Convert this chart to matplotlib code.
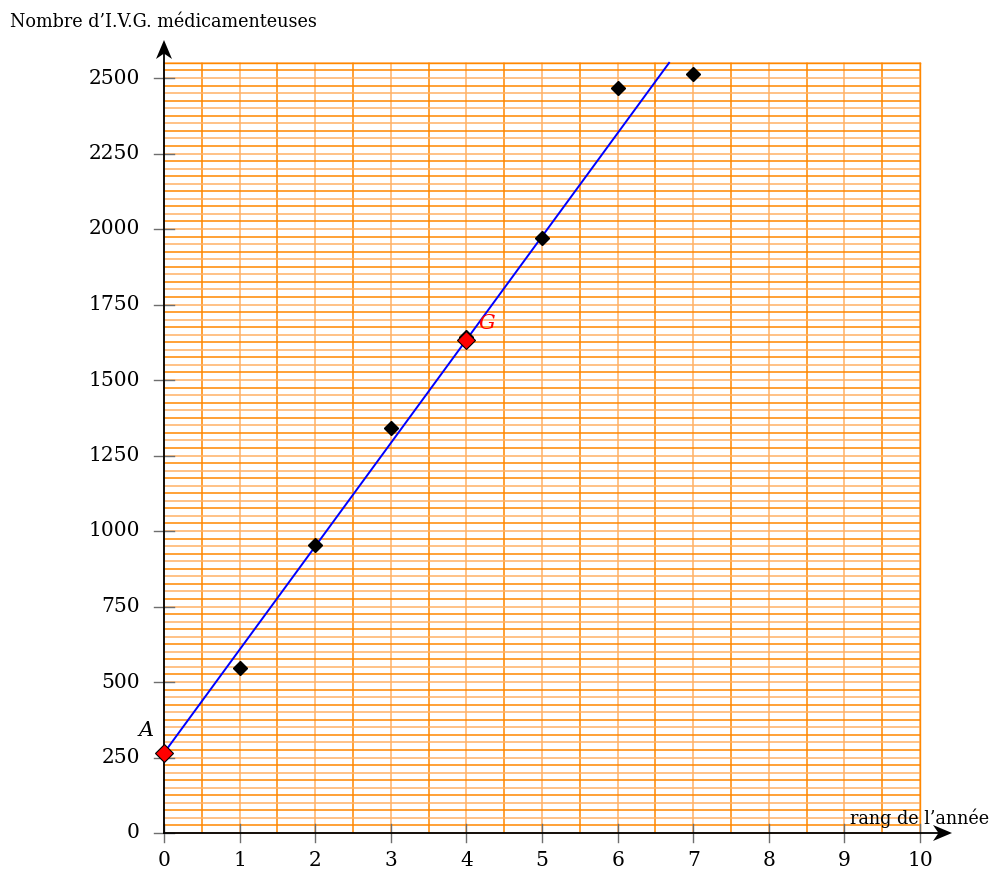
import matplotlib
matplotlib.use("Agg")
import matplotlib.pyplot as plt
import numpy as np

# data
rangs = [1, 2, 3, 4, 5, 6, 7]
ivg = [546, 953, 1341, 1642, 1970, 2467, 2513]
point_A = (0, 265)
x_ticks = list(range(0, 11))
y_ticks = list(range(0, 2501, 250))

FONT = "DejaVu Serif"
ORANGE_DARK = "#ff8800"
ORANGE_LIGHT = "#ffb266"
TICK = "#6e6e6e"

fig = plt.figure(figsize=(9.91, 8.77), dpi=100)
ax = fig.add_axes([0, 0, 1, 1])
# pixel mapping: x=0 -> 164px, x=10 -> 920px ; y=0 -> 833px, y=2500 -> 78px
sx = 75.6
sy = 755 / 2500
ax.set_xlim(-164 / sx, (991 - 164) / sx)
ax.set_ylim(-(877 - 833) / sy, 833 / sy)
ax.axis("off")

YTOP = 2550
# grid
for i, xv in enumerate(np.arange(0, 10.01, 0.5)):
    col = ORANGE_LIGHT if i % 2 == 0 else ORANGE_DARK
    ax.plot([xv, xv], [0, YTOP], color=col, lw=1.1, zorder=1)
for j, yv in enumerate(np.arange(0, YTOP + 1, 25)):
    col = ORANGE_LIGHT if j % 2 == 0 else ORANGE_DARK
    ax.plot([0, 10], [yv, yv], color=col, lw=1.1, zorder=1)
ax.plot([10, 10], [0, YTOP], color=ORANGE_DARK, lw=1.0, zorder=1)
ax.plot([0, 10], [YTOP, YTOP], color=ORANGE_DARK, lw=1.0, zorder=1)


def stealth(tip_px, direction):
    """Stealth-like arrow head, tip given in pixels from top-left."""
    tx, ty = tip_px
    L, W, N = 19, 8, 5.5
    if direction == "up":
        pts = [(tx, ty), (tx - W, ty + L), (tx, ty + L - N), (tx + W, ty + L)]
    else:
        pts = [(tx, ty), (tx - L, ty - W), (tx - L + N, ty), (tx - L, ty + W)]
    xs = [(p[0] - 164) / sx for p in pts]
    ys = [(833 - p[1]) / sy for p in pts]
    ax.fill(xs, ys, color="black", lw=0, zorder=6)


# axes
ax.plot([0, 0], [0, (833 - 52) / sy], color="black", lw=1.3, zorder=5)
ax.plot([0, (940 - 164) / sx], [0, 0], color="black", lw=1.3, zorder=5)
stealth((164, 40), "up")
stealth((952, 833), "right")

# ticks
for xt in x_ticks:
    ax.plot([xt, xt], [-9 / sy, 9 / sy], color=TICK, lw=1.0, zorder=4)
    ax.text(xt, -28 / sy, str(xt), ha="center", va="center",
            fontsize=14.5, family=FONT, zorder=6)
for yt in y_ticks:
    ax.plot([-10 / sx, 10 / sx], [yt, yt], color=TICK, lw=1.0, zorder=4)
    ax.text(-24 / sx, yt, str(yt), ha="right", va="center",
            fontsize=14.5, family=FONT, zorder=6)

# regression line through A and G
gx = float(np.mean(rangs))
gy = float(np.mean(ivg))
slope = (gy - point_A[1]) / (gx - point_A[0])
x_end = (YTOP - point_A[1]) / slope
ax.plot([point_A[0], x_end], [point_A[1], point_A[1] + slope * x_end],
        color="#0000ff", lw=1.4, zorder=3)

# points
ax.plot(rangs, ivg, linestyle="none", marker="D", color="black",
        markersize=7.5, zorder=7)
ax.plot([point_A[0], gx], [point_A[1], gy], linestyle="none", marker="D",
        markerfacecolor="red", markeredgecolor="black", markeredgewidth=0.8,
        markersize=9, zorder=8)

ax.text(point_A[0] - 10 / sx, point_A[1] + 22 / sy, "A", ha="right", va="center",
        fontsize=15, family=FONT, style="italic", zorder=9)
ax.text(gx + 12 / sx, gy + 16 / sy, "G", ha="left", va="center",
        fontsize=15, family=FONT, style="italic", color="red", zorder=9)

# axis labels
ax.text(-154 / sx, 811 / sy, "Nombre d\u2019I.V.G. m\u00e9dicamenteuses",
        ha="left", va="center", fontsize=12.7, family=FONT)
ax.text((989 - 164) / sx, 15 / sy, "rang de l\u2019ann\u00e9e",
        ha="right", va="center", fontsize=12.7, family=FONT, zorder=9)

fig.savefig("out.png", dpi=100)
